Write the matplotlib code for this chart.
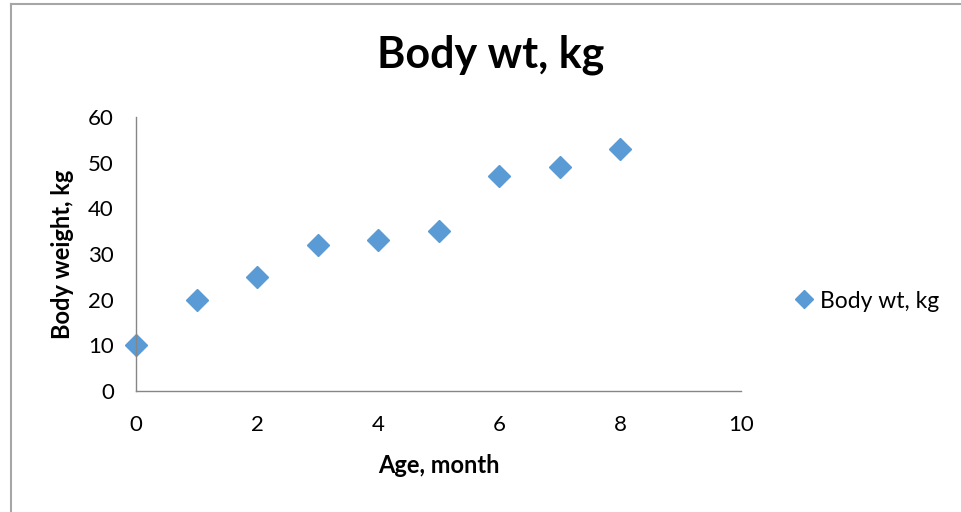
import matplotlib
matplotlib.use("Agg")
import matplotlib.pyplot as plt
from matplotlib.lines import Line2D

age_month = [0, 1, 2, 3, 4, 5, 6, 7, 8]
body_wt = [10, 20, 25, 32, 33, 35, 47, 49, 53]
x_ticks = [0, 2, 4, 6, 8, 10]
y_ticks = [0, 10, 20, 30, 40, 50, 60]

plt.rcParams["font.family"] = ["Lato", "DejaVu Sans"]

W, H = 961, 512
fig = plt.figure(figsize=(W / 100, H / 100), dpi=100)
ax = fig.add_axes([136 / W, (H - 391) / H, (741 - 136) / W, (391 - 117) / H])

blue = "#5B9BD5"
ax.plot(age_month, body_wt, ls="none", marker="D", ms=11, color=blue,
        mec=blue, label="Body wt, kg", clip_on=False)

ax.set_xlim(0, 10)
ax.set_ylim(0, 60)
ax.set_xticks(x_ticks)
ax.set_yticks(y_ticks)
ax.tick_params(length=0, labelsize=16)
ax.tick_params(axis="y", pad=16)
ax.tick_params(axis="x", pad=17)
for s in ("top", "right"):
    ax.spines[s].set_visible(False)
for s in ("left", "bottom"):
    ax.spines[s].set_color("#868686")
    ax.spines[s].set_linewidth(1)

ax.set_xlabel("Age, month", fontsize=17, fontweight="bold", labelpad=14)
ax.set_ylabel("Body weight, kg", fontsize=17, fontweight="bold", labelpad=10)
fig.text(491 / W, 1 - 55 / H, "Body wt, kg", fontsize=31, fontweight="bold",
         ha="center", va="center")

handle = Line2D([], [], ls="none", marker="D", ms=9, color=blue)
fig.legend([handle], ["Body wt, kg"], loc="center left",
           bbox_to_anchor=(770 / W, 1 - 301 / H), frameon=False,
           fontsize=16.5, handletextpad=0.1, handlelength=1.2)

# outer chart border (only top and left visible in the crop)
fig.add_artist(Line2D([10.5 / W, 10.5 / W], [0, 1 - 4 / H], transform=fig.transFigure,
                      color="#A6A6A6", lw=1.5))
fig.add_artist(Line2D([10.5 / W, 1], [1 - 4 / H, 1 - 4 / H], transform=fig.transFigure,
                      color="#A6A6A6", lw=1.5))

fig.savefig("out.png", dpi=100)
